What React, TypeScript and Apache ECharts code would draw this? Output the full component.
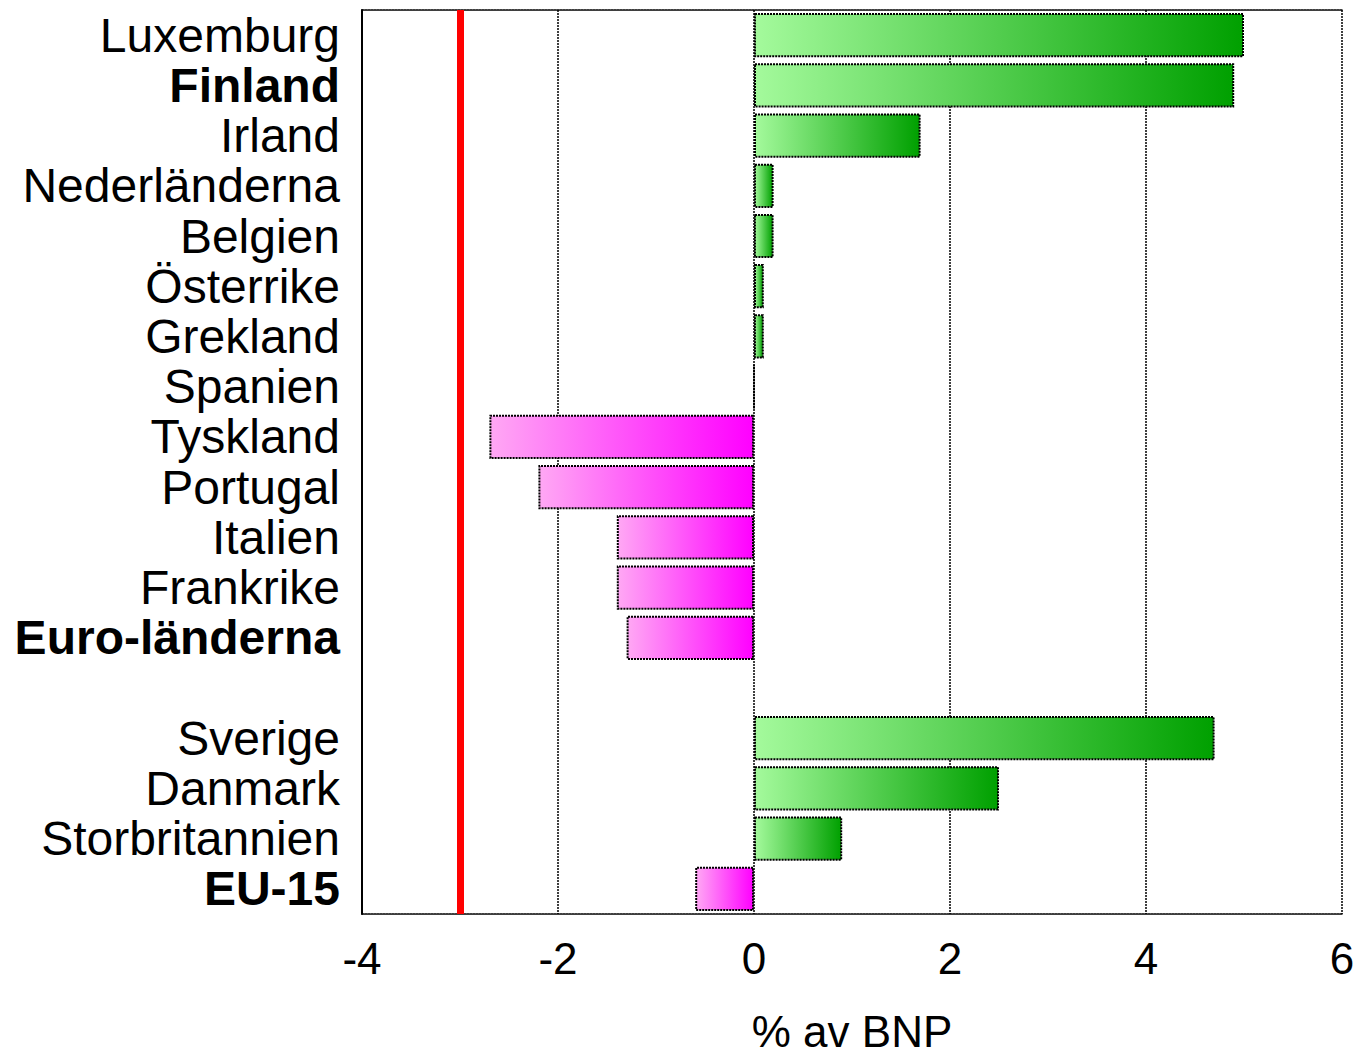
import React, { useEffect, useRef } from "react";
import * as echarts from "echarts";

const categories = [
  "Luxemburg", "Finland", "Irland", "Nederländerna", "Belgien", "Österrike",
  "Grekland", "Spanien", "Tyskland", "Portugal", "Italien", "Frankrike",
  "Euro-länderna", "", "Sverige", "Danmark", "Storbritannien", "EU-15",
];
const values: (number | null)[] = [
  5.0, 4.9, 1.7, 0.2, 0.2, 0.1, 0.1, 0, -2.7, -2.2, -1.4, -1.4, -1.3, null,
  4.7, 2.5, 0.9, -0.6,
];
const boldCategories = ["Finland", "Euro-länderna", "EU-15"];
const referenceLine = -3;
const xMin = -4;
const xMax = 6;
const xInterval = 2;
const axisName = "% av BNP";

const FONT = "'Liberation Sans', Arial, sans-serif";

const greenGrad = () =>
  new echarts.graphic.LinearGradient(0, 0, 1, 0, [
    { offset: 0, color: "#a4fa9c" },
    { offset: 1, color: "#00a000" },
  ]);
const pinkGrad = () =>
  new echarts.graphic.LinearGradient(0, 0, 1, 0, [
    { offset: 0, color: "#ffa8f4" },
    { offset: 1, color: "#ff00ff" },
  ]);

export default function App() {
  const ref = useRef<HTMLDivElement>(null);
  useEffect(() => {
    if (!ref.current) return;
    const chart = echarts.init(ref.current, undefined, { renderer: "svg" });
    const dotted = { color: "#000", width: 1.5, type: [2, 1] as number[] };
    chart.setOption({
      animation: false,
      backgroundColor: "#fff",
      grid: {
        left: 362,
        right: 15,
        top: 10,
        bottom: 141,
        containLabel: false,
        outerBoundsMode: "none",
      },
      xAxis: [
        {
          type: "value",
          min: xMin,
          max: xMax,
          interval: xInterval,
          position: "bottom",
          axisLine: { show: true, lineStyle: dotted },
          axisTick: { show: false },
          splitLine: { show: true, lineStyle: dotted },
          axisLabel: {
            fontFamily: FONT,
            fontSize: 44,
            color: "#000",
            margin: 22,
          },
          name: axisName,
          nameLocation: "middle",
          nameGap: 97,
          nameTextStyle: {
            fontFamily: FONT,
            fontSize: 44,
            lineHeight: 40,
            padding: 0,
            color: "#000",
          },
        },
        {
          type: "value",
          min: xMin,
          max: xMax,
          interval: xInterval,
          position: "top",
          axisLine: { show: true, lineStyle: dotted },
          axisTick: { show: false },
          axisLabel: { show: false },
          splitLine: { show: false },
        },
      ],
      yAxis: {
        type: "category",
        data: categories,
        inverse: true,
        axisLine: { show: true, onZero: false, lineStyle: { color: "#000", width: 2 } },
        axisTick: { show: false },
        axisLabel: {
          interval: 0,
          margin: 22,
          fontFamily: FONT,
          fontSize: 48,
          color: "#000",
          formatter: (v: string) =>
            boldCategories.includes(v) ? `{b|${v}}` : `{n|${v}}`,
          rich: {
            b: { fontFamily: FONT, fontSize: 48, fontWeight: "bold", color: "#000" },
            n: { fontFamily: FONT, fontSize: 48, color: "#000" },
          },
        },
      },
      series: [
        {
          type: "bar",
          xAxisIndex: 0,
          barCategoryGap: "12%",
          data: values.map((v) =>
            v === null
              ? null
              : {
                  value: v,
                  itemStyle: {
                    color: v >= 0 ? greenGrad() : pinkGrad(),
                    borderColor: "#000",
                    borderWidth: 2,
                    borderType: [2, 1],
                  },
                }
          ),
          markLine: {
            symbol: "none",
            silent: true,
            label: { show: false },
            lineStyle: { color: "#ff0000", width: 7, type: "solid" },
            data: [{ xAxis: referenceLine }],
          },
        },
      ],
    });
    return () => chart.dispose();
  }, []);
  return (
    <div
      ref={ref}
      style={{ position: "fixed", left: 0, top: 0, width: 1357, height: 1055 }}
    />
  );
}
